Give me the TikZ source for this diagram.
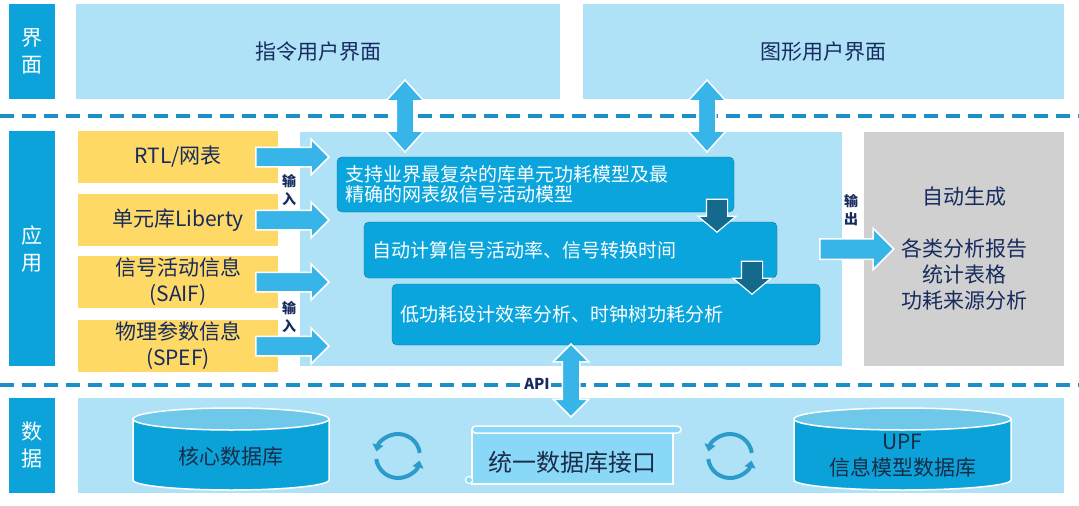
\documentclass[tikz,border=0pt]{standalone}
\usepackage{fontspec}
\setmainfont{Noto Sans CJK SC}
\usetikzlibrary{arrows.meta, positioning, calc, shapes.arrows}
\definecolor{lblblue}{HTML}{0BA3DA}
\definecolor{areablue}{HTML}{AFE2F6}
\definecolor{inyellow}{HTML}{FFD966}
\definecolor{procblue}{HTML}{0AA5DC}
\definecolor{procedge}{HTML}{1E6F8F}
\definecolor{arrblue}{HTML}{38B5E8}
\definecolor{darkarr}{HTML}{136A8C}
\definecolor{sepblue}{HTML}{1C8FC6}
\definecolor{outgray}{HTML}{D0D0D0}
\definecolor{navy}{HTML}{172B5E}
\definecolor{dbnavy}{HTML}{1A2C48}
\definecolor{cyltop}{HTML}{6DC8EA}
\definecolor{cylbody}{HTML}{0AA2D8}
\definecolor{scrollfill}{HTML}{8AD8F7}
\definecolor{cycblue}{HTML}{2C9BCB}

\begin{document}
\begin{tikzpicture}[
  x=1pt, y=-1pt,
  every node/.style={font=\fontsize{21}{26}\selectfont, text=navy},
  layerlbl/.style={rectangle, fill=lblblue, text=white, minimum width=46pt, align=center, inner sep=0pt, font=\fontsize{21}{27}\selectfont},
  area/.style={rectangle, fill=areablue, inner sep=0pt},
  inbox/.style={rectangle, fill=inyellow, minimum width=200pt, minimum height=52pt, align=center, inner sep=0pt},
  procbox/.style={rectangle, rounded corners=5pt, draw=procedge, fill=procblue, text=white, align=left, inner xsep=8pt, inner ysep=0pt, font=\fontsize{19}{19.5}\selectfont},
  outbox/.style={rectangle, fill=outgray, align=center, inner sep=0pt},
  tag/.style={align=center, inner sep=1pt, font=\fontsize{14}{18}\selectfont\bfseries},
  dbtext/.style={align=center, text=dbnavy, inner sep=0pt},
  inarrow/.style={single arrow, draw=white, line width=1.5pt, fill=arrblue, inner xsep=0pt, inner ysep=9pt, single arrow head extend=8pt, minimum height=73pt, anchor=tail},
  dnarrow/.style={single arrow, draw=white, line width=1.2pt, fill=darkarr, inner xsep=0pt, inner ysep=10pt, single arrow head extend=8.5pt, single arrow tip angle=100, minimum height=33pt, rotate=-90, anchor=tip},
  updown/.style={double arrow, draw=white, line width=1.5pt, fill=arrblue, inner xsep=0pt, inner ysep=8pt, double arrow head extend=10pt, double arrow tip angle=84, minimum height=72pt, rotate=90},
  sepline/.style={sepblue, line width=4pt, dash pattern=on 14pt off 8pt},
  cycarrow/.style={cycblue, line width=4pt, -{Triangle[width=11pt, length=7pt]}},
]
\useasboundingbox[fill=white] (0,0) rectangle (1079,506);

% Interface layer
\node[layerlbl, minimum height=95pt] (lblui) at (32,51.5) {界\\面};
\node[area, minimum width=484pt, minimum height=95pt] (cmdui) at (318,51.5) {指令用户界面};
\node[area, minimum width=481pt, minimum height=95pt] (gui) at (823.5,51.5) {图形用户界面};

\draw[sepline] (0,116) -- (1079,116);

% Application layer
\node[layerlbl, minimum height=235pt] (lblapp) at (32,248.5) {应\\用};
\node[area, minimum width=542pt, minimum height=234pt] (engine) at (571,249) {};

\node[inbox] (rtl) at (178,157) {RTL/网表};
\node[inbox] (lib) at (178,220) {单元库Liberty};
\node[inbox] (saif) at (178,282) {信号活动信息\\(SAIF)};
\node[inbox] (spef) at (178,346) {物理参数信息\\(SPEF)};

\node[inarrow] (inrtl) at ([xshift=-23pt]rtl.east) {};
\node[inarrow] (inlib) at ([xshift=-23pt]lib.east) {};
\node[inarrow] (insaif) at ([xshift=-23pt]saif.east) {};
\node[inarrow] (inspef) at ([xshift=-23pt]spef.east) {};
\node[tag] (intag1) at (289,190) {输\\入};
\node[tag] (intag2) at (289,317) {输\\入};

\node[procbox, text width=381pt, minimum height=55pt] (model) at (535.5,184.5) {支持业界最复杂的库单元功耗模型及最\\精确的网表级信号活动模型};
\node[procbox, text width=397pt, minimum height=56pt] (rate) at (570.5,250) {自动计算信号活动率、信号转换时间};
\node[procbox, text width=412pt, minimum height=61pt] (anal) at (606,314.5) {低功耗设计效率分析、时钟树功耗分析};

\node[dnarrow] (dn1) at (717,233) {};
\node[dnarrow] (dn2) at (752,295) {};

\node[updown] (uia) at (405,116) {};
\node[updown] (uib) at (707,116) {};

\node[outbox, minimum width=200pt, minimum height=234pt] (report) at (964,249) {自动生成\\[26pt]各类分析报告\\统计表格\\功耗来源分析};
\node[inarrow, inner ysep=9.5pt, single arrow head extend=10.5pt, minimum height=74pt] (outrep) at (819,249) {};
\node[tag] (outtag) at (851,210) {输\\出};

\draw[sepline] (0,385) -- (1079,385);

% Data layer
\node[layerlbl, minimum height=95pt] (lbldata) at (32,445.5) {数\\据};
\node[area, minimum width=986pt, minimum height=95pt] (dbarea) at (571,445.5) {};

% core database
\filldraw[fill=cylbody, draw=white, line width=1.5pt] (133,419) -- (133,480) arc[start angle=180, end angle=360, x radius=98pt, y radius=10pt] -- (329,419) -- cycle;
\filldraw[fill=cyltop, draw=white, line width=1.5pt] (231,419) ellipse[x radius=98pt, y radius=11pt];
\node[dbtext] (coredb) at (231,457) {核心数据库};

% UPF database
\filldraw[fill=cylbody, draw=white, line width=1.5pt] (794,419) -- (794,480) arc[start angle=180, end angle=360, x radius=108.5pt, y radius=10pt] -- (1011,419) -- cycle;
\filldraw[fill=cyltop, draw=white, line width=1.5pt] (902.5,419) ellipse[x radius=108.5pt, y radius=11pt];
\node[dbtext] (upfdb) at (902.5,456) {UPF\\信息模型数据库};

% unified interface scroll
\filldraw[fill=scrollfill, draw=white, line width=1.5pt] (472,430) rectangle (673,484);
\filldraw[fill=scrollfill, draw=white, line width=1.5pt, rounded corners=3.5pt] (472,426) rectangle (681,433);
\filldraw[fill=scrollfill, draw=white, line width=1.2pt] (469,480) circle[radius=3.5pt];
\node[dbtext, font=\fontsize{24}{28}\selectfont] (dbapi) at (572,462) {统一数据库接口};

% sync arrows
\draw[cycarrow] (398,456) ++(8:22pt) arc[start angle=8, end angle=168, radius=22pt];
\draw[cycarrow] (398,456) ++(188:22pt) arc[start angle=188, end angle=348, radius=22pt];
\draw[cycarrow] (730,456) ++(8:22pt) arc[start angle=8, end angle=168, radius=22pt];
\draw[cycarrow] (730,456) ++(188:22pt) arc[start angle=188, end angle=348, radius=22pt];

\node[updown, minimum height=73pt, double arrow head extend=9pt, double arrow tip angle=90] (apiarr) at (571,380.5) {};
\node[tag, fill=white, font=\fontsize{15}{18}\selectfont\bfseries] (api) at (537,384) {API};

\end{tikzpicture}
\end{document}
